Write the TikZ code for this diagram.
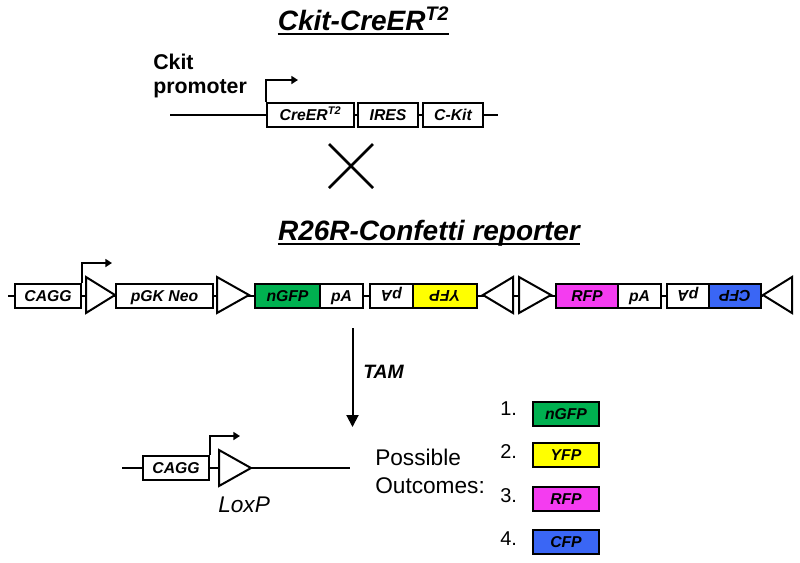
\documentclass[tikz,border=0pt]{standalone}
\usepackage{fontspec}
\setmainfont{Liberation Sans}
\usetikzlibrary{arrows.meta}
\definecolor{cgreen}{HTML}{00B050}
\definecolor{cyellow}{HTML}{FFFF00}
\definecolor{cmag}{HTML}{F43CF0}
\definecolor{cblue}{HTML}{3A66F5}
\newcommand\genebox[8][]{% [options] name, x1, x2, yc, h, fill, text
  \node[gbox,#1,fill=#7,minimum width={((#4)-(#3))*0.75pt},minimum height={(#6)*0.75pt}] (#2) at ({((#3)+(#4))/2},#5) {#8};}
\newcommand\loxsite[4]{% name, xbase, xapex, yc
  \draw[lw,fill=white] (#2,#4-18) -- (#3,#4) -- (#2,#4+18) -- cycle;
  \coordinate (#1) at (#3,#4);}
\begin{document}
\begin{tikzpicture}[x=0.75pt,y=-0.75pt,
  lw/.style={line width=1.5pt},
  gbox/.style={draw,line width=1.5pt,inner sep=0pt,text height=8.4pt,text depth=0pt,
    font=\fontsize{11.8}{13}\selectfont\bfseries\itshape},
  flip/.style={rotate=180},
  ttl/.style={inner sep=0pt,anchor=base,font=\fontsize{21}{24}\selectfont\bfseries\itshape},
  lbl/.style={inner sep=0pt,anchor=base west},
  prom/.style={line width=1.5pt,-{Triangle[length=5pt,width=6pt]}}]
\useasboundingbox (0,0) rectangle (800,562);

% ---- title 1
\node[ttl] (t1) at (363.5,30.5) {Ckit-CreER\textsuperscript{T2}};
\draw[lw] ([yshift=-2.7pt]t1.base west) -- ([yshift=-2.7pt]t1.base east);

\node[lbl,font=\fontsize{16}{18}\selectfont\bfseries] (ck1) at (153,69.5) {Ckit};
\node[lbl,font=\fontsize{16}{18}\selectfont\bfseries] (ck2) at (153,93) {promoter};

\coordinate (r1s) at (170,114.5);
\coordinate (r1e) at (498,114.5);
\draw[lw] (r1s) -- (r1e);
\genebox{cre}{267}{354}{114.5}{24}{white}{CreER\textsuperscript{T2}}
\genebox{ires}{358}{418}{114.5}{24}{white}{IRES}
\genebox{ckit}{423}{483}{114.5}{24}{white}{C-Kit}
\coordinate (p1) at (298,80);
\draw[prom] (cre.north west) |- (p1);

% ---- cross
\coordinate (xa) at (329,144);
\coordinate (xb) at (373,188);
\coordinate (xc) at (329,188);
\coordinate (xd) at (373,144);
\draw[line width=2pt] (xa) -- (xb) (xc) -- (xd);

% ---- title 2
\node[ttl] (t2) at (429,240.5) {R26R-Confetti reporter};
\draw[lw] ([yshift=-2.7pt]t2.base west) -- ([yshift=-2.7pt]t2.base east);

\coordinate (r2s) at (8,296);
\coordinate (r2e) at (763,296);
\draw[lw] (r2s) -- (r2e);
\genebox{cagg}{15}{81}{296}{24}{white}{CAGG}
\loxsite{l1}{86}{115}{295}
\genebox{neo}{116}{213}{296}{24}{white}{pGK Neo}
\loxsite{l2}{217}{249}{295}
\genebox{ngfp}{255}{320}{296}{24}{cgreen}{nGFP}
\genebox{pa1}{320}{363}{296}{24}{white}{pA}
\genebox[flip]{pa2}{370}{413}{296}{24}{white}{pA}
\genebox[flip]{yfp}{413}{477}{296}{24}{cyellow}{YFP}
\loxsite{l3}{513}{483}{295}
\loxsite{l4}{519}{551}{295}
\genebox{rfp}{556}{618}{296}{24}{cmag}{RFP}
\genebox{pa3}{618}{661}{296}{24}{white}{pA}
\genebox[flip]{pa4}{667}{709}{296}{24}{white}{pA}
\genebox[flip]{cfp}{709}{761}{296}{24}{cblue}{CFP}
\loxsite{l5}{792}{763}{295}
\coordinate (p2) at (112,263);
\draw[prom] (cagg.north east) |- (p2);

% ---- TAM arrow
\coordinate (ta) at (352.5,328);
\coordinate (tb) at (352.5,427);
\draw[line width=1.5pt,-{Triangle[length=9pt,width=9pt]}] (ta) -- (tb);
\node[lbl,font=\fontsize{14.5}{16}\selectfont\bfseries\itshape] (tam) at (363,378) {TAM};

% ---- recombined allele
\coordinate (r3s) at (122,468);
\coordinate (r3e) at (350,468);
\draw[lw] (r3s) -- (r3e);
\genebox{cagg2}{143}{209}{468}{24}{white}{CAGG}
\loxsite{l6}{219}{251}{468}
\coordinate (p3) at (240,436);
\draw[prom] (cagg2.north east) |- (p3);
\node[lbl,font=\fontsize{17}{20}\selectfont\itshape] (loxp) at (218,512) {LoxP};

% ---- outcomes
\node[lbl,font=\fontsize{17}{20}\selectfont] (po1) at (375,465) {Possible};
\node[lbl,font=\fontsize{17}{20}\selectfont] (po2) at (375,493) {Outcomes:};
\node[lbl,font=\fontsize{15}{18}\selectfont] (n1) at (500,415) {1.};
\node[lbl,font=\fontsize{15}{18}\selectfont] (n2) at (500,458.5) {2.};
\node[lbl,font=\fontsize{15}{18}\selectfont] (n3) at (500,502) {3.};
\node[lbl,font=\fontsize{15}{18}\selectfont] (n4) at (500,545) {4.};
\genebox{o1}{533}{599}{414}{24}{cgreen}{nGFP}
\genebox{o2}{533}{599}{455}{24}{cyellow}{YFP}
\genebox{o3}{533}{599}{498.5}{24}{cmag}{RFP}
\genebox{o4}{533}{599}{541.5}{24}{cblue}{CFP}
\end{tikzpicture}
\end{document}
